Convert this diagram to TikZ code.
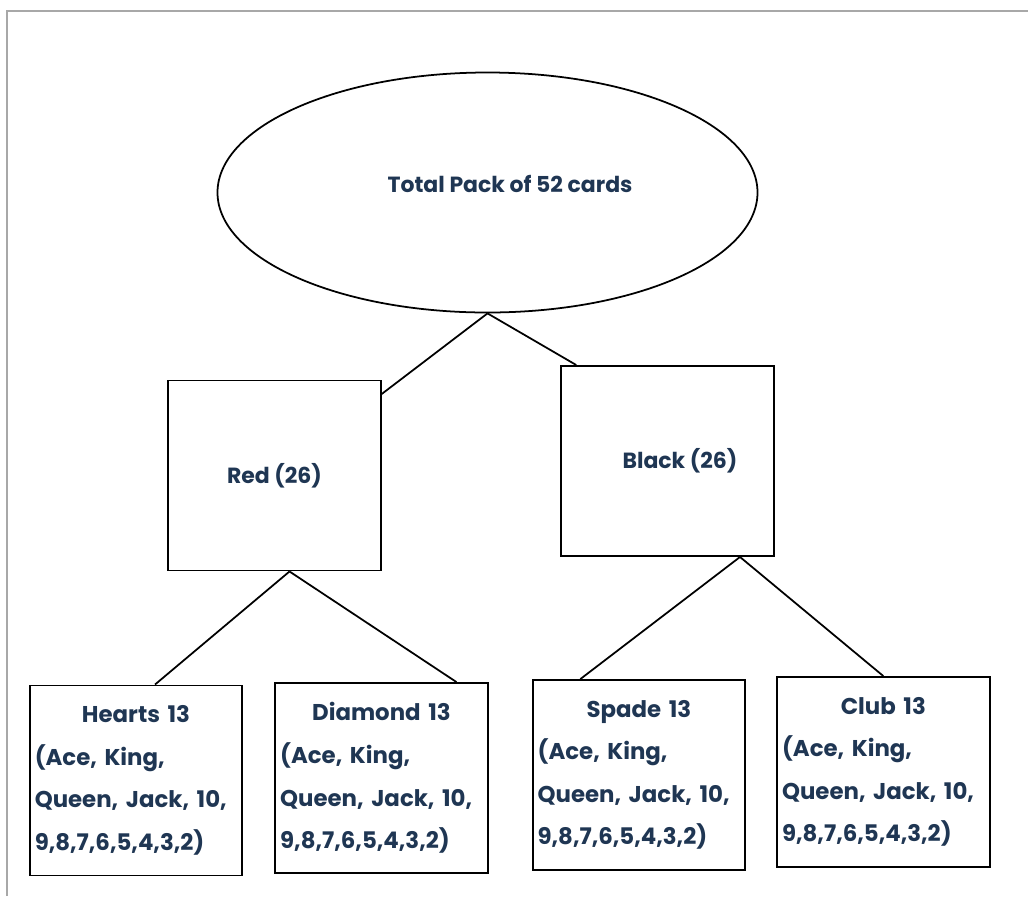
\documentclass[tikz,border=0pt]{standalone}
\usepackage{fontspec}
\setmainfont{Poppins}
\usetikzlibrary{positioning,shapes.geometric}
\definecolor{inkblue}{HTML}{1F3653}
\definecolor{framegray}{HTML}{A8A8A8}
\newcommand{\cardlist}{(Ace, King,\\Queen, Jack, 10,\\9,8,7,6,5,4,3,2)}
\newcommand{\suitname}[1]{\hfill #1\hfill\null\\}

\begin{document}
\begin{tikzpicture}[
        every node/.style={text=inkblue},
        pack/.style={draw, ellipse, line width=1pt, minimum width=10.8cm,
            minimum height=4.8cm},
        colour/.style={draw, rectangle, line width=1.1pt, minimum width=4.25cm,
            minimum height=3.8cm, inner sep=0.1cm, font=\bfseries\fontsize{12.5}{15}\selectfont},
        suit/.style={colour, text width=4.05cm, align=left,
            font=\bfseries\fontsize{13}{24.2}\selectfont},
        link/.style={line width=1pt},
    ]
        \useasboundingbox (0,0) rectangle (20.56,-17.92);
        %% page frame
        \draw[framegray, line width=0.6pt] (0.14,-17.92) -- (0.14,-0.22) -- (20.56,-0.22);

        \node[pack] (total) at (9.75,-3.85) {};
        \node[font=\bfseries\fontsize{12.5}{15}\selectfont]
            at ([xshift=0.45cm, yshift=0.18cm]total.center) {Total Pack of 52 cards};

        \node[colour] (red) at (5.49,-9.51) {Red (26)};
        \node[colour] (black) at (13.35,-9.22) {\hspace*{0.5cm}\raisebox{-0.12cm}{Black (26)}};

        \node[suit] (hearts) at (2.72,-15.61) {\suitname{Hearts 13}\cardlist};
        \node[suit, right=0.62cm of hearts, yshift=0.05cm] (diamond) {\suitname{Diamond 13}\cardlist};
        \node[suit, right=0.86cm of diamond, yshift=0.06cm] (spade) {\suitname{Spade 13}\cardlist};
        \node[suit, right=0.6cm of spade, yshift=0.06cm] (club) {\suitname{Club 13}\cardlist};

        \draw[link] (total.south) -- (red);
        \draw[link] (total.south) -- ([xshift=0.32cm]black.north west);
        % Red suits
        \draw[link] ([xshift=0.3cm]red.south) -- ([xshift=0.38cm]hearts.north);
        \draw[link] ([xshift=0.3cm]red.south) -- ([xshift=1.5cm]diamond.north);
        % Black suits
        \draw[link] ([xshift=1.45cm]black.south) -- ([xshift=-1.17cm]spade.north);
        \draw[link] ([xshift=1.45cm]black.south) -- (club.north);
\end{tikzpicture}
\end{document}
